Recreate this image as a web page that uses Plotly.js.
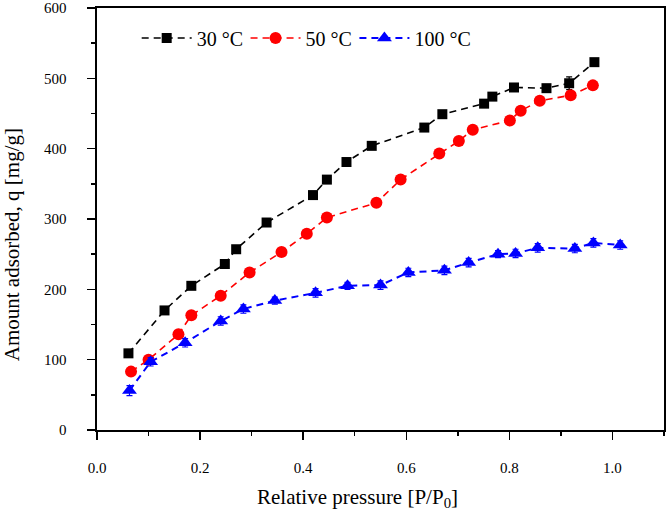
<!DOCTYPE html>
<html>
<head>
<meta charset="utf-8">
<script src="https://cdn.plot.ly/plotly-3.0.1.min.js"></script>
<style>
  body { margin: 0; background: #fff; }
  #fig { width: 666px; height: 520px; }
</style>
</head>
<body>
<div id="fig"></div>
<script>
// 30 °C isotherm
var x30 = [0.061, 0.131, 0.183, 0.248, 0.270, 0.329, 0.419, 0.446, 0.484, 0.533,
           0.635, 0.670, 0.751, 0.767, 0.809, 0.872, 0.916, 0.965];
var y30 = [109, 170, 205, 236, 257, 295, 334, 356, 381, 404,
           430, 449, 464, 474, 487, 486, 493, 523];
var e30 = [3, 3, 3, 3, 3, 3, 3, 5, 3, 3, 3, 3, 3, 3, 3, 3, 9, 3];

// 50 °C isotherm
var x50 = [0.066, 0.100, 0.158, 0.183, 0.240, 0.296, 0.358, 0.407, 0.446, 0.542,
           0.589, 0.664, 0.702, 0.729, 0.801, 0.822, 0.859, 0.919, 0.962];
var y50 = [83, 100, 136, 163, 191, 224, 253, 279, 302, 323,
           356, 393, 411, 427, 440, 454, 468, 476, 490];

// 100 °C isotherm
var x100 = [0.063, 0.104, 0.171, 0.240, 0.284, 0.345, 0.424, 0.486, 0.550, 0.604,
            0.674, 0.721, 0.778, 0.812, 0.855, 0.927, 0.963, 1.015];
var y100 = [56, 97, 124, 155, 172, 184, 195, 205, 206, 224,
            227, 238, 250, 251, 259, 258, 266, 263];
var e100 = [7, 6, 6, 6, 6, 5, 6, 5, 6, 6, 6, 6, 5, 6, 6, 6, 6, 6];

var names = ['30 °C', '50 °C', '100 °C'];
var colors = ['#000000', '#ff0000', '#0000ff'];

var FONT = 'Liberation Serif, Times New Roman, serif';

function series(x, y, err, i, sym, size) {
  var t = {
    x: x, y: y, name: names[i],
    legend: i ? 'legend' + (i + 1) : 'legend',  // one legend box per series
    type: 'scatter', mode: 'lines+markers',
    line: {color: colors[i], width: 1.6, dash: '7px,5px'},
    marker: {symbol: sym, size: size, color: colors[i]}
  };
  if (err) t.error_y = {type: 'data', array: err, visible: true,
                        color: colors[i], thickness: 1.2, width: 3};
  return t;
}

var data = [
  series(x30, y30, e30, 0, 'square', 10),
  series(x50, y50, null, 1, 'circle', 12),
  series(x100, y100, e100, 2, 'triangle-up', 13)
];
data[2].line.width = 2;

function legendAt(x) {
  return {orientation: 'h', x: x, y: 0.975, xanchor: 'left', yanchor: 'top',
          font: {family: FONT, size: 20}, bgcolor: 'rgba(0,0,0,0)', itemwidth: 50};
}

var layout = {
  width: 666, height: 520,
  margin: {l: 97, r: 2, t: 8, b: 90},
  paper_bgcolor: '#fff', plot_bgcolor: '#fff',
  font: {family: FONT, color: '#000', size: 14},
  showlegend: true,
  legend: legendAt(0.07),
  legend2: legendAt(0.262),
  legend3: legendAt(0.454),
  xaxis: {
    range: [0, 1.1], showgrid: false, zeroline: false,
    showline: true, linecolor: '#000', linewidth: 1.6, mirror: true,
    ticks: 'outside', ticklen: 8, tickwidth: 1.5, tickcolor: '#000',
    tickvals: [0, 0.2, 0.4, 0.6, 0.8, 1.0], ticktext: ['0.0', '0.2', '0.4', '0.6', '0.8', '1.0'],
    minor: {dtick: 0.1, ticks: 'outside', ticklen: 4, tickwidth: 1.5, tickcolor: '#000'},
    tickfont: {family: FONT, size: 15}, ticklabelstandoff: 15
  },
  yaxis: {
    range: [0, 600], showgrid: false, zeroline: false,
    showline: true, linecolor: '#000', linewidth: 1.6, mirror: true,
    ticks: 'outside', ticklen: 8, tickwidth: 1.5, tickcolor: '#000',
    dtick: 100,
    minor: {dtick: 50, ticks: 'outside', ticklen: 4, tickwidth: 1.5, tickcolor: '#000'},
    tickfont: {family: FONT, size: 15}, ticklabelstandoff: 18
  },
  annotations: [
    {text: 'Relative pressure [P/P<sub>0</sub>]', xref: 'paper', yref: 'paper',
     x: 0.459, y: -0.16, xanchor: 'center', yanchor: 'middle', showarrow: false,
     font: {family: FONT, size: 21}},
    {text: 'Amount adsorbed, q [mg/g]', xref: 'paper', yref: 'paper',
     x: -0.15, y: 0.44, xanchor: 'center', yanchor: 'middle', showarrow: false,
     textangle: -90, font: {family: FONT, size: 21}}
  ]
};

Plotly.newPlot('fig', data, layout, {staticPlot: true, displayModeBar: false});
</script>
</body>
</html>
